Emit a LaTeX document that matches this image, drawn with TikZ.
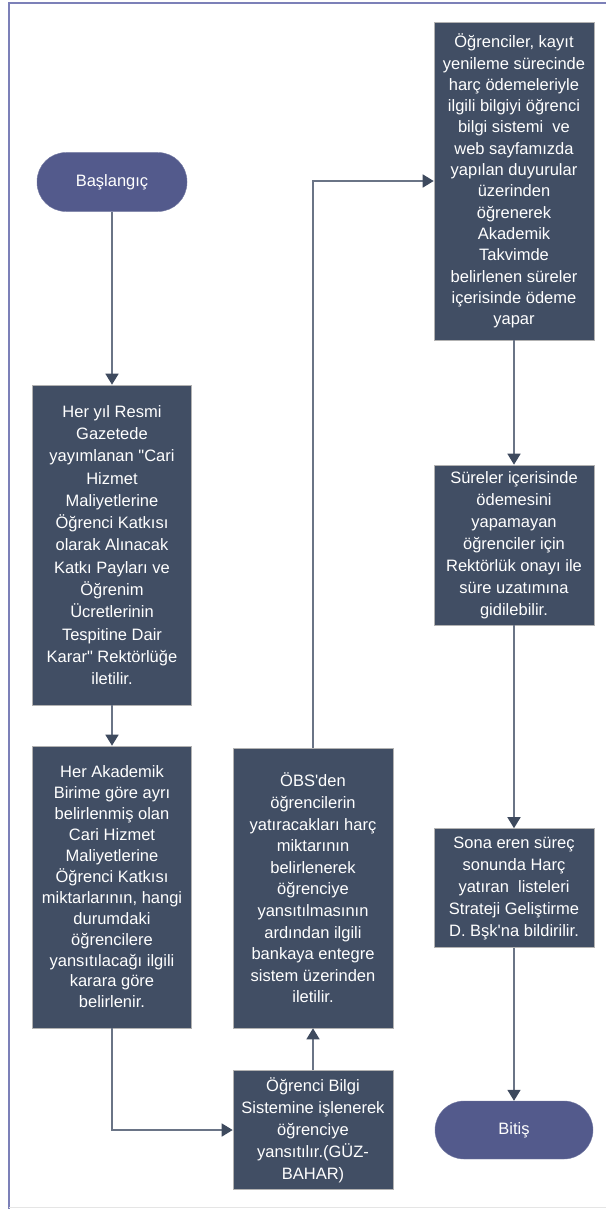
\documentclass[tikz,border=0pt]{standalone}
\usepackage{fontspec}
\setmainfont{Liberation Sans}[Ligatures=TeXOff]
\usetikzlibrary{arrows.meta}
\definecolor{boxfill}{HTML}{414E64}
\definecolor{termfill}{HTML}{535A8C}
\definecolor{linec}{HTML}{6A7486}
\definecolor{tipc}{HTML}{3E4A5E}
\definecolor{framec}{HTML}{7C80B8}
\tikzset{
  procbox/.style={draw=gray!60, line width=0.6pt, fill=boxfill, text=white, align=center,
    inner xsep=-3pt, inner ysep=2pt, font=\fontsize{16.5}{21}\selectfont},
  termbox/.style={fill=termfill, draw=termfill!80!white, text=white, rounded corners=29pt,
    minimum width=150pt, minimum height=59pt, font=\fontsize{16.5}{20}\selectfont},
  flow/.style={draw=linec, line width=1.5pt, -{Triangle[width=13pt,length=11pt,color=tipc]}},
}
\begin{document}
\begin{tikzpicture}[x=1pt,y=-1pt]
\useasboundingbox (0,0) rectangle (606,1209);
\draw[framec, line width=2pt] (9,1209) -- (9,3.5) -- (606,3.5);
\draw[gray!20, line width=1pt] (9,1207.5) -- (606,1207.5);

\node[termbox] (start) at (112,182) {Başlangıç};
\node[termbox, minimum width=158pt, minimum height=58pt] (end) at (514,1130) {Bitiş};

\node[procbox, minimum width=159pt, minimum height=320pt, font=\fontsize{16.5}{22.3}\selectfont] (b1) at (112,545)
 {Her yıl Resmi\\Gazetede\\yayımlanan "Cari\\Hizmet\\Maliyetlerine\\Öğrenci Katkısı\\olarak Alınacak\\Katkı Payları ve\\Öğrenim\\Ücretlerinin\\Tespitine Dair\\Karar" Rektörlüğe\\iletilir.};
\node[procbox, minimum width=159pt, minimum height=282pt, font=\fontsize{16.5}{20.9}\selectfont] (b2) at (112,887)
 {Her Akademik\\Birime göre ayrı\\belirlenmiş olan\\Cari Hizmet\\Maliyetlerine\\Öğrenci Katkısı\\miktarlarının, hangi\\durumdaki\\öğrencilere\\yansıtılacağı ilgili\\karara göre\\belirlenir.};
\node[procbox, minimum width=160pt, minimum height=280pt, font=\fontsize{16.5}{21.6}\selectfont] (b3) at (313,888)
 {ÖBS'den\\öğrencilerin\\yatıracakları harç\\miktarının\\belirlenerek\\öğrenciye\\yansıtılmasının\\ardından ilgili\\bankaya entegre\\sistem üzerinden\\iletilir.};
\node[procbox, minimum width=160pt, minimum height=119pt, font=\fontsize{16.5}{22}\selectfont] (b4) at (313,1130)
 {Öğrenci Bilgi\\Sistemine işlenerek\\öğrenciye\\yansıtılır.(GÜZ-\\BAHAR)};
\node[procbox, minimum width=160pt, minimum height=318pt, font=\fontsize{16.5}{21.3}\selectfont] (b5) at (514,181)
 {Öğrenciler, kayıt\\yenileme sürecinde\\harç ödemeleriyle\\ilgili bilgiyi öğrenci\\bilgi sistemi\ \ ve\\web sayfamızda\\yapılan duyurular\\üzerinden\\öğrenerek\\Akademik\\Takvimde\\belirlenen süreler\\içerisinde ödeme\\yapar};
\node[procbox, minimum width=160pt, minimum height=160pt, font=\fontsize{16.5}{22}\selectfont] (b6) at (514,545)
 {Süreler içerisinde\\ödemesini\\yapamayan\\öğrenciler için\\Rektörlük onayı ile\\süre uzatımına\\gidilebilir.};
\node[procbox, minimum width=160pt, minimum height=119pt, font=\fontsize{16.5}{22}\selectfont] (b7) at (514,888)
 {Sona eren süreç\\sonunda Harç\\yatıran\ \ listeleri\\Strateji Geliştirme\\D. Bşk'na bildirilir.};

\draw[flow] (start.south) -- (b1.north);
\draw[flow] (b1.south) -- (b2.north);
\draw[flow] (b2.south) |- (b4.west);
\draw[flow] (b4.north) -- (b3.south);
\draw[flow] (b3.north) |- (b5.west);
\draw[flow] (b5.south) -- (b6.north);
\draw[flow] (b6.south) -- (b7.north);
\draw[flow] (b7.south) -- (end.north);
\end{tikzpicture}
\end{document}
